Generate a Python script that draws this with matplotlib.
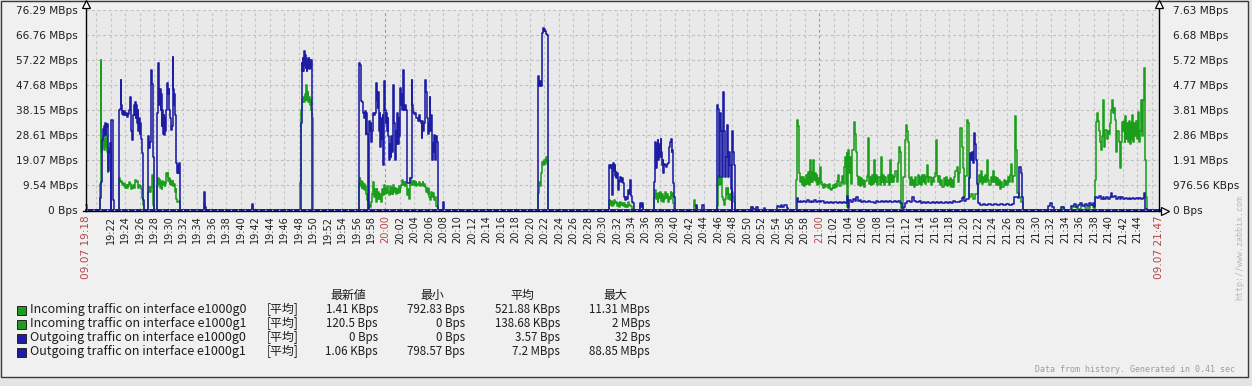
import matplotlib
matplotlib.use("Agg")
import matplotlib.pyplot as plt
from matplotlib.patches import Rectangle
from matplotlib.lines import Line2D

W, H = 1252, 386
MIB = 1048576.0

# ---------------- data (time = minutes after 19:00, value = MBps) ----------------
T_START = 18.59   # 09.07 19:18(:35)
T_END = 167.0     # 09.07 21:47

# Incoming traffic on interface e1000g0 (left axis, MBps)
in_g0_pts = [
    (18.59, 2.0), (18.75, 0),
    (20.53, 10), (20.60, 57), (20.70, 22), (20.80, 27), (20.90, 24), (21.00, 28), (21.10, 23),
    (21.20, 27), (21.30, 24), (21.40, 28), (21.50, 22), (21.60, 14.5), (21.70, 23.6), (21.80, 21.6),
    (21.92, 23), (22.00, 0),
    (23.16, 12), (23.30, 10.5), (23.45, 11), (23.55, 10), (23.65, 9.5), (23.75, 10.3), (23.85, 9),
    (23.95, 10), (24.05, 8.5), (24.15, 9.5), (24.25, 8.4), (24.35, 9.5), (24.45, 9), (24.58, 10.5),
    (24.70, 9.8), (24.82, 8), (24.92, 9), (25.02, 8.5), (25.14, 9.5), (25.26, 8.5), (25.37, 11.4),
    (25.50, 10.5), (25.61, 11), (25.72, 9), (25.83, 8.5), (25.95, 9.5), (26.07, 9), (26.18, 8),
    (26.30, 4.6), (26.45, 1.9), (26.60, 0),
    (27.22, 7), (27.32, 8.8), (27.42, 7), (27.55, 8.8), (27.65, 13.4), (27.80, 12), (27.90, 2), (28.00, 0),
    (28.46, 9), (28.56, 12), (28.66, 10), (28.76, 11.5), (28.86, 8.5), (28.96, 10.5), (29.07, 8),
    (29.17, 11), (29.27, 9.5), (29.37, 10.5), (29.47, 9), (29.57, 10), (29.67, 14), (29.77, 13),
    (29.87, 14), (29.97, 11), (30.07, 12), (30.17, 10), (30.27, 11.5), (30.37, 9.5), (30.47, 10.5),
    (30.57, 11), (30.67, 9), (30.77, 10), (30.87, 7), (30.97, 8), (31.07, 4), (31.20, 3.0),
    (31.45, 3.5), (31.58, 0),
    (34.90, 2.5), (35.05, 0), (41.50, 1.5), (41.65, 0),
    (48.23, 10.3), (48.33, 38), (48.45, 42), (48.55, 41), (48.65, 43), (48.75, 41), (48.85, 44),
    (48.95, 42), (49.05, 47.7), (49.15, 42), (49.25, 45), (49.35, 41), (49.45, 43), (49.55, 40),
    (49.65, 42), (49.75, 38), (49.85, 35), (49.93, 0),
    (56.30, 10), (56.42, 12), (56.52, 9), (56.62, 11), (56.72, 8.5), (56.82, 10.5), (56.92, 8),
    (57.02, 10), (57.12, 7.6), (57.22, 9), (57.35, 6), (57.47, 3.8), (57.58, 0.8), (57.72, 2),
    (57.90, 1), (58.05, 3), (58.20, 6), (58.34, 10.7), (58.45, 5), (58.55, 8), (58.65, 3), (58.78, 8),
    (58.90, 4), (59.02, 7), (59.15, 4), (59.28, 6), (59.40, 3), (59.55, 8), (59.68, 5.7), (59.80, 9.5),
    (59.92, 6), (60.04, 8), (60.16, 6.5), (60.28, 9), (60.40, 7), (60.52, 5.7), (60.64, 9), (60.76, 6),
    (60.88, 8.5), (61.00, 6), (61.12, 9.5), (61.24, 7), (61.36, 8.5), (61.48, 6), (61.60, 8),
    (61.72, 6.5), (61.84, 9), (61.96, 7), (62.08, 8.5), (62.20, 9.5), (62.31, 11.4), (62.42, 9.5),
    (62.54, 10.5), (62.66, 9), (62.78, 10.5), (62.90, 9.5), (63.00, 5.7), (63.12, 8), (63.23, 4),
    (63.35, 9), (63.46, 12), (63.58, 9.5), (63.70, 11), (63.82, 9.5), (63.94, 11), (64.06, 9.5),
    (64.18, 10.5), (64.30, 9), (64.42, 10), (64.54, 9.5), (64.66, 10.5), (64.78, 9), (64.90, 10),
    (65.02, 9.5), (65.14, 10.5), (65.26, 9), (65.38, 10), (65.50, 8.8), (65.62, 7), (65.74, 8.5),
    (65.86, 6), (65.98, 8), (66.10, 5), (66.22, 3.8), (66.34, 7), (66.46, 5), (66.58, 6.5),
    (66.70, 3.8), (66.82, 5), (66.94, 1.5), (67.10, 1.0), (67.22, 0),
    (81.05, 6.5), (81.20, 10.8), (81.35, 9), (81.47, 10.8), (81.58, 14), (81.68, 18.4), (81.80, 17),
    (81.92, 19), (82.05, 17.5), (82.16, 19.5), (82.28, 20), (82.38, 18.5), (82.45, 3.2), (82.53, 0),
    (90.93, 3.8), (91.05, 2), (91.18, 3.5), (91.30, 1.5), (91.42, 3), (91.55, 2), (91.68, 3.8),
    (91.80, 2.5), (91.92, 3), (92.05, 1.5), (92.18, 2.5), (92.30, 1.2), (92.45, 3), (92.58, 2),
    (92.72, 2.8), (92.85, 1.5), (93.00, 2.5), (93.15, 1.2), (93.30, 2), (93.45, 1), (93.60, 3),
    (93.75, 2), (93.90, 1.5), (94.10, 0.5), (94.40, 0),
    (95.18, 2.0), (95.69, 0),
    (97.16, 5), (97.28, 7.6), (97.40, 4), (97.52, 6), (97.64, 3), (97.76, 6.5), (97.88, 4.5),
    (98.00, 7), (98.12, 3.5), (98.24, 6), (98.36, 3), (98.48, 5), (98.60, 4), (98.72, 7), (98.84, 4.5),
    (98.96, 6), (99.08, 3), (99.20, 5), (99.32, 4), (99.44, 7), (99.56, 5.5), (99.68, 6.5),
    (99.80, 2.7), (99.95, 0),
    (102.66, 3.8), (102.85, 1.5), (103.05, 0),
    (105.84, 1.5), (105.98, 13), (106.10, 9.5), (106.22, 12), (106.34, 10), (106.46, 12.5),
    (106.58, 5), (106.72, 3.8), (106.84, 2), (106.96, 4), (107.08, 8.4), (107.20, 6), (107.32, 8.4),
    (107.44, 4), (107.56, 6), (107.68, 3.8), (107.80, 6), (107.92, 7), (108.05, 5), (108.18, 3),
    (108.30, 0),
    (110.55, 1.2), (110.80, 0), (167.0, 0),
]

# Incoming traffic on interface e1000g1 (right axis, MBps)
in_g1_pts = [
    (18.59, 0),
    (116.79, 1.14), (116.93, 3.43), (117.05, 3.2), (117.15, 2.4), (117.25, 1.4), (117.35, 1.05),
    (117.48, 1.25), (117.60, 0.95), (117.72, 1.25), (117.84, 0.9), (117.96, 1.15), (118.08, 0.95),
    (118.20, 1.35), (118.32, 1.0), (118.44, 1.45), (118.56, 0.95), (118.68, 1.9), (118.80, 1.05),
    (118.92, 1.45), (119.04, 1.05), (119.16, 1.9), (119.28, 1.15), (119.40, 1.4), (119.52, 1.05),
    (119.64, 1.35), (119.76, 0.95), (119.88, 1.2), (120.00, 1.0), (120.12, 1.65), (120.24, 1.05),
    (120.40, 0.95), (120.55, 0.85), (120.70, 1.0), (120.85, 0.88), (121.00, 0.95), (121.15, 0.85),
    (121.30, 1.0), (121.45, 0.8), (121.60, 0.75), (121.75, 0.85), (121.90, 0.95), (122.05, 0.85),
    (122.20, 1.0), (122.35, 0.88), (122.50, 1.1), (122.65, 1.34), (122.80, 0.9), (122.95, 1.05),
    (123.10, 1.3), (123.25, 1.0), (123.40, 1.65), (123.52, 2.03), (123.65, 1.0), (123.78, 2.16),
    (123.90, 0.12), (124.02, 2.29), (124.15, 1.4), (124.30, 2.0), (124.45, 1.0), (124.60, 2.29),
    (124.75, 2.7), (124.86, 3.36), (124.98, 2.9), (125.10, 2.2), (125.22, 1.3), (125.35, 0.95),
    (125.50, 1.25), (125.65, 0.9), (125.80, 1.2), (125.95, 0.95), (126.10, 1.15), (126.25, 0.88),
    (126.40, 1.1), (126.55, 1.3), (126.70, 2.75), (126.85, 1.0), (127.00, 1.25), (127.15, 0.95),
    (127.30, 1.35), (127.45, 1.0), (127.60, 1.9), (127.75, 1.05), (127.90, 1.35), (128.05, 0.95),
    (128.20, 1.25), (128.35, 0.95), (128.56, 2.0), (128.70, 1.05), (128.85, 1.35), (129.00, 0.95),
    (129.15, 1.25), (129.30, 1.05), (129.45, 1.35), (129.60, 0.95), (129.80, 1.9), (129.95, 1.05),
    (130.10, 1.35), (130.25, 1.05), (130.40, 1.25), (130.55, 1.5), (130.70, 1.05), (130.85, 1.8),
    (131.00, 2.4), (131.20, 2.2), (131.38, 0.08), (131.60, 1.26), (131.80, 2.67), (131.95, 3.24),
    (132.10, 3.0), (132.25, 2.6), (132.40, 1.2), (132.55, 0.95), (132.70, 1.25), (132.85, 0.95),
    (133.00, 1.15), (133.15, 0.88), (133.30, 1.25), (133.45, 0.95), (133.60, 1.35), (133.75, 1.0),
    (133.90, 1.25), (134.05, 0.95), (134.20, 1.35), (134.35, 1.05), (134.50, 1.35), (134.65, 1.0),
    (134.80, 1.25), (134.95, 1.72), (135.10, 1.05), (135.25, 1.25), (135.40, 0.95), (135.55, 1.2),
    (135.70, 1.05), (135.85, 1.25), (136.00, 1.4), (136.12, 2.67), (136.30, 1.3), (136.45, 1.05),
    (136.60, 1.3), (136.75, 0.95), (136.90, 1.15), (137.05, 0.88), (137.20, 1.2), (137.35, 0.95),
    (137.50, 1.25), (137.65, 0.9), (137.80, 1.15), (137.95, 0.95), (138.10, 1.2), (138.25, 0.88),
    (138.40, 1.15), (138.55, 0.88), (138.70, 1.25), (138.85, 1.5), (139.00, 1.65), (139.15, 1.05),
    (139.30, 1.4), (139.50, 3.13), (139.70, 2.4), (139.85, 1.6), (139.98, 0.5), (140.20, 1.3),
    (140.40, 3.43), (140.60, 3.3), (140.75, 0.5), (141.00, 0.6), (141.30, 0.4), (141.60, 0.6),
    (141.90, 1.0), (142.05, 1.35), (142.20, 1.05), (142.35, 1.5), (142.50, 1.0), (142.65, 1.25),
    (142.80, 1.05), (142.95, 1.35), (143.10, 1.05), (143.25, 1.9), (143.40, 1.15), (143.55, 0.95),
    (143.70, 1.25), (143.85, 1.05), (144.00, 1.5), (144.15, 1.05), (144.30, 1.25), (144.45, 0.95),
    (144.60, 1.2), (144.75, 0.95), (144.90, 1.15), (145.05, 0.8), (145.20, 1.05), (145.35, 0.88),
    (145.50, 1.15), (145.65, 0.95), (145.80, 1.1), (145.95, 0.95), (146.10, 1.25), (146.25, 1.05),
    (146.40, 1.35), (146.55, 1.75), (146.70, 1.05), (146.85, 1.3), (147.02, 3.56), (147.20, 2.3),
    (147.40, 0.65), (147.65, 0.5), (147.90, 0.3), (148.15, 0),
    (153.60, 0.1), (153.90, 0), (155.00, 0.12), (155.60, 0.05), (156.20, 0.2), (156.80, 0.08),
    (157.40, 0.18), (157.90, 0.1), (158.05, 0),
    (158.10, 1.14), (158.25, 3.36), (158.40, 3.7), (158.55, 3.4), (158.70, 3.0), (158.85, 2.6),
    (159.00, 2.3), (159.15, 2.8), (159.30, 4.2), (159.45, 2.4), (159.60, 3.05), (159.75, 2.7),
    (159.90, 3.0), (160.05, 2.9), (160.20, 3.3), (160.35, 3.8), (160.50, 4.2), (160.65, 3.7),
    (160.80, 3.9), (160.95, 3.43), (161.10, 2.2), (161.25, 3.0), (161.40, 2.6), (161.55, 1.6),
    (161.70, 2.6), (161.85, 3.36), (162.00, 3.0), (162.12, 3.4), (162.24, 2.6), (162.36, 3.56),
    (162.48, 2.7), (162.60, 3.3), (162.72, 2.6), (162.84, 3.4), (162.96, 2.5), (163.08, 3.3),
    (163.20, 2.7), (163.32, 3.6), (163.44, 2.6), (163.56, 3.3), (163.68, 2.8), (163.80, 3.4),
    (163.92, 2.7), (164.04, 3.3), (164.16, 3.74), (164.28, 2.6), (164.40, 3.0), (164.52, 4.2),
    (164.64, 2.8), (164.78, 4.2), (164.90, 5.4), (165.05, 1.9), (165.20, 0.5), (165.35, 0),
    (167.0, 0),
]

# Outgoing traffic on interface e1000g0 (left axis, MBps) - flat zero
out_g0_pts = [(18.59, 0), (167.0, 0)]

# Outgoing traffic on interface e1000g1 (left axis, MBps)
out_g1_pts = [
    (18.59, 0),
    (20.53, 4.5), (20.67, 10.7), (20.80, 26.7), (20.94, 31), (21.02, 28), (21.10, 32), (21.18, 29),
    (21.26, 33), (21.34, 28.5), (21.42, 31.7), (21.50, 32.8), (21.58, 24), (21.66, 15), (21.75, 22),
    (21.85, 25.5), (22.00, 0.5), (22.08, 34.3), (22.30, 3.8), (22.40, 0),
    (23.16, 38), (23.35, 38.5), (23.40, 49.6), (23.50, 40), (23.58, 36.5), (23.66, 37.5), (23.74, 36),
    (23.82, 37.5), (23.95, 36), (24.10, 37), (24.25, 35.5), (24.40, 36.5), (24.52, 38), (24.62, 43),
    (24.75, 36), (24.88, 30), (24.95, 26.7), (25.05, 32), (25.14, 36), (25.25, 40), (25.32, 36),
    (25.40, 41), (25.48, 35), (25.56, 40), (25.64, 33), (25.72, 38), (25.80, 30), (25.90, 35),
    (26.00, 29), (26.10, 33), (26.22, 27), (26.30, 21.6), (26.42, 12), (26.52, 3.8), (26.62, 0),
    (27.22, 28), (27.35, 23.6), (27.45, 26), (27.60, 53.4), (27.72, 48), (27.83, 42), (27.91, 20),
    (28.01, 0), (28.46, 37), (28.58, 56), (28.66, 46), (28.74, 40), (28.82, 46), (28.90, 38),
    (28.98, 44), (29.07, 32), (29.15, 38), (29.23, 29), (29.31, 36), (29.39, 28.6), (29.48, 35),
    (29.57, 30), (29.66, 38), (29.76, 42), (29.86, 48.4), (29.94, 44), (30.02, 46), (30.12, 38),
    (30.22, 35), (30.34, 30.5), (30.46, 32), (30.56, 58.4), (30.66, 46), (30.74, 40), (30.82, 44),
    (30.91, 36), (31.00, 24), (31.08, 18), (31.16, 14), (31.25, 17), (31.35, 14), (31.45, 18),
    (31.55, 15), (31.61, 0),
    (34.90, 6.9), (35.05, 1.2), (35.12, 0), (41.50, 2.2), (41.65, 0),
    (48.27, 33), (48.40, 56), (48.50, 53), (48.58, 58), (48.66, 53), (48.74, 60.4), (48.82, 55),
    (48.90, 59), (48.98, 54), (49.06, 58), (49.14, 53), (49.22, 57.2), (49.30, 54), (49.38, 58),
    (49.46, 53.5), (49.54, 57), (49.62, 54), (49.70, 57), (49.80, 55), (49.88, 0),
    (56.30, 56), (56.54, 55), (56.65, 41.3), (56.81, 41), (56.95, 37), (57.05, 35), (57.15, 37.5),
    (57.25, 29), (57.35, 37), (57.47, 29), (57.58, 0), (57.72, 34), (57.85, 30), (57.95, 33),
    (58.05, 26), (58.16, 30), (58.28, 37), (58.45, 36), (58.60, 37), (58.72, 48.4), (58.82, 42),
    (58.92, 39), (59.02, 45), (59.12, 30), (59.22, 37), (59.32, 24), (59.42, 35), (59.52, 27),
    (59.62, 36), (59.72, 17), (59.82, 49), (59.92, 38), (60.02, 33), (60.12, 37), (60.22, 30),
    (60.32, 35), (60.42, 28), (60.52, 19), (60.62, 25), (60.72, 20), (60.82, 28), (60.92, 22),
    (61.02, 29), (61.12, 47.7), (61.22, 33), (61.32, 19), (61.42, 30), (61.52, 25), (61.62, 37),
    (61.72, 25), (61.82, 35), (61.92, 28), (62.02, 46.5), (62.14, 40), (62.24, 44), (62.34, 38),
    (62.44, 53.4), (62.54, 40), (62.64, 38), (62.76, 40), (62.88, 38), (62.98, 10.3), (63.25, 10.3),
    (63.40, 12), (63.62, 49.6), (63.74, 40), (63.86, 37.4), (64.00, 36.5), (64.15, 37), (64.30, 35),
    (64.45, 34), (64.60, 36), (64.75, 34), (64.90, 33), (65.00, 27.5), (65.12, 34), (65.25, 30),
    (65.35, 33), (65.47, 49.6), (65.58, 45), (65.70, 42), (65.82, 35), (65.92, 29), (66.02, 33),
    (66.12, 43), (66.22, 30), (66.32, 36), (66.42, 19), (66.52, 25.5), (66.62, 22), (66.72, 28.6),
    (66.82, 26), (66.92, 19), (67.02, 28), (67.12, 26), (67.22, 0),
    (67.95, 3.2), (68.08, 0),
    (81.05, 47), (81.15, 51), (81.28, 47), (81.40, 49), (81.55, 47), (81.62, 67.4), (81.75, 69.3),
    (81.88, 68.3), (82.00, 68.8), (82.12, 68), (82.24, 66.8), (82.40, 66.5), (82.50, 0),
    (90.93, 17.2), (91.05, 16), (91.15, 17), (91.28, 12), (91.38, 5.7), (91.50, 17.9), (91.62, 15),
    (91.72, 17), (91.80, 13), (91.88, 14.5), (91.96, 12), (92.04, 14), (92.14, 11), (92.24, 7.6),
    (92.34, 11), (92.45, 12.5), (92.56, 10.5), (92.68, 12), (92.80, 10.3), (92.95, 9), (93.05, 5),
    (93.18, 3.8), (93.32, 5), (93.45, 4), (93.58, 7.6), (93.70, 6), (93.80, 11.4), (93.92, 9),
    (94.02, 5.5), (94.14, 3), (94.30, 2.5), (94.42, 0),
    (95.18, 2.5), (95.35, 1), (95.55, 2.5), (95.69, 0),
    (97.16, 10.8), (97.26, 26), (97.36, 21), (97.46, 16), (97.56, 25), (97.66, 26.5), (97.76, 19),
    (97.86, 25), (97.96, 20), (98.06, 27), (98.16, 22), (98.26, 17), (98.36, 19), (98.46, 14),
    (98.56, 17.5), (98.70, 17), (98.85, 16.5), (99.00, 17.5), (99.12, 18), (99.24, 24), (99.36, 26),
    (99.46, 27), (99.58, 22), (99.70, 23), (99.80, 10.3), (99.92, 5), (100.04, 0),
    (102.95, 2), (103.15, 0), (103.85, 2), (104.02, 0),
    (105.84, 40), (105.98, 38.5), (106.10, 12.7), (106.22, 33), (106.34, 37), (106.46, 30),
    (106.56, 12.7), (106.66, 30), (106.76, 45), (106.88, 30), (106.96, 12.7), (107.08, 20),
    (107.20, 32.4), (107.32, 25), (107.42, 12.7), (107.54, 22), (107.66, 17.2), (107.80, 8),
    (107.92, 0.5), (108.00, 29.9), (108.12, 22), (108.22, 17.2), (108.32, 0),
    (110.55, 1.2), (110.80, 0.4), (111.30, 1.2), (111.50, 0), (112.35, 0.8), (112.50, 0),
    (114.16, 1.5), (114.40, 1), (114.70, 2), (114.90, 1), (115.20, 1.8), (115.50, 0.8), (115.70, 0),
    (116.93, 4.5), (117.10, 3.0), (117.30, 3.4), (117.55, 3.0), (117.80, 3.5), (118.05, 3.2),
    (118.30, 3.8), (118.55, 3.0), (118.80, 3.6), (119.05, 3.2), (119.30, 3.8), (119.55, 3.2),
    (119.80, 3.6), (120.05, 3.0), (120.30, 3.4), (120.60, 2.8), (120.90, 3.2), (121.20, 2.6),
    (121.50, 2.9), (121.80, 2.6), (122.10, 3.0), (122.40, 2.7), (122.70, 3.1), (123.00, 2.8),
    (123.30, 3.2), (123.60, 2.8), (123.90, 5.5), (124.05, 0.8), (124.17, 3.8), (124.40, 3.2),
    (124.65, 4.0), (124.90, 3.4), (125.15, 5.0), (125.35, 3.5), (125.60, 3.8), (125.85, 3.2),
    (126.10, 3.6), (126.40, 3.0), (126.70, 3.4), (127.00, 3.0), (127.30, 3.2), (127.60, 2.8),
    (127.90, 3.3), (128.20, 2.9), (128.50, 3.4), (128.80, 3.0), (129.10, 3.5), (129.40, 3.0),
    (129.70, 3.3), (130.00, 2.9), (130.30, 3.5), (130.60, 3.0), (130.90, 3.4), (131.20, 2.8),
    (131.40, 0.8), (131.75, 1.0), (131.90, 2.5), (132.20, 3.5), (132.50, 3.2), (132.90, 5.0),
    (133.15, 3.5), (133.45, 3.0), (133.75, 3.3), (134.05, 2.8), (134.35, 3.2), (134.65, 2.8),
    (134.95, 3.1), (135.25, 2.7), (135.55, 3.2), (135.85, 2.8), (136.15, 3.0), (136.45, 2.7),
    (136.75, 3.1), (137.05, 2.8), (137.35, 3.2), (137.65, 2.8), (137.95, 3.0), (138.25, 2.7),
    (138.55, 3.3), (138.85, 2.9), (139.15, 3.2), (139.45, 3.6), (139.75, 4.4), (139.87, 5.0),
    (140.05, 3.5), (140.35, 4.0), (140.70, 12), (140.79, 21.6), (140.95, 19), (141.10, 22),
    (141.25, 18), (141.40, 29.3), (141.55, 25), (141.68, 19), (141.82, 10), (141.95, 2.5),
    (142.20, 2.0), (142.60, 2.4), (143.00, 1.8), (143.40, 2.2), (143.80, 1.9), (144.20, 2.3),
    (144.60, 1.8), (145.00, 2.2), (145.40, 1.9), (145.80, 2.3), (146.20, 1.8), (146.60, 2.2),
    (146.95, 5.0), (147.45, 4.5), (147.65, 16.5), (147.85, 14), (148.05, 5), (148.19, 0),
    (151.69, 1.5), (151.90, 2.5), (152.20, 1.0), (152.50, 0), (153.49, 1.0), (153.80, 0),
    (154.88, 1.5), (155.20, 2.2), (155.50, 1.2), (155.80, 1.8), (156.10, 2.6), (156.40, 1.5),
    (156.70, 2.2), (157.00, 1.6), (157.30, 2.6), (157.60, 1.8), (157.90, 2.8), (158.05, 1.0),
    (158.20, 5.0), (158.45, 4.4), (158.70, 5.2), (158.95, 4.3), (159.20, 5.0), (159.45, 4.2),
    (159.70, 4.9), (159.95, 4.3), (160.20, 4.8), (160.40, 6.5), (160.55, 4.8), (160.80, 5.2),
    (161.05, 4.3), (161.30, 4.9), (161.55, 4.2), (161.80, 4.8), (162.05, 4.2), (162.30, 4.7),
    (162.55, 4.3), (162.80, 4.7), (163.05, 4.2), (163.30, 4.7), (163.55, 4.3), (163.80, 4.6),
    (164.05, 4.2), (164.30, 4.7), (164.55, 4.3), (164.80, 4.7), (164.92, 6.5), (165.10, 0.5),
    (165.35, 0), (167.0, 0),
]

# ---------------- labels ----------------
left_tick_labels = ["0 Bps", "9.54 MBps", "19.07 MBps", "28.61 MBps", "38.15 MBps",
                    "47.68 MBps", "57.22 MBps", "66.76 MBps", "76.29 MBps"]
right_tick_labels = ["0 Bps", "976.56 KBps", "1.91 MBps", "2.86 MBps", "3.81 MBps",
                     "4.77 MBps", "5.72 MBps", "6.68 MBps", "7.63 MBps"]
x_grid_minutes = list(range(20, 167, 2))     # 19:20 .. 21:46
x_label_minutes = list(range(22, 165, 2))    # 19:22 .. 21:44
start_label = "09.07 19:18"
end_label = "09.07 21:47"

legend_names = ["Incoming traffic on interface e1000g0",
                "Incoming traffic on interface e1000g1",
                "Outgoing traffic on interface e1000g0",
                "Outgoing traffic on interface e1000g1"]
legend_func = "[平均]"
stat_headers = ["最新値", "最小", "平均", "最大"]
stat_last = ["1.41 KBps", "120.5 Bps", "0 Bps", "1.06 KBps"]
stat_min = ["792.83 Bps", "0 Bps", "0 Bps", "798.57 Bps"]
stat_avg = ["521.88 KBps", "138.68 KBps", "3.57 Bps", "7.2 MBps"]
stat_max = ["11.31 MBps", "2 MBps", "32 Bps", "88.85 MBps"]

GREEN = "#1B9E1B"
BLUE = "#1C1CA4"
series_colors = [GREEN, GREEN, BLUE, BLUE]
RED = "#B44646"
TXT = "#1E1E1E"

# ---------------- figure ----------------
def fx(x):
    return x / W


def fy(y):
    return 1 - y / H


fig = plt.figure(figsize=(W / 100, H / 100), dpi=100)
fig.patch.set_facecolor("#E4E4E4")
fig.patches.append(Rectangle((fx(0.5), fy(377)), (1248 - 0.5) / W, (377 - 0.5) / H,
                             transform=fig.transFigure, facecolor="#F0F0F0",
                             edgecolor="#3A3A3A", lw=1.0, zorder=-5))

PL, PR, PT, PB = 86, 1159, 9.5, 210
rect = [fx(PL), fy(PB), (PR - PL) / W, (PB - PT) / H]
axR = fig.add_axes(rect)
axL = fig.add_axes(rect, sharex=axR)
axR.set_facecolor("#E9E9E9")
axL.patch.set_visible(False)

left_max = 80e6 / MIB
right_max = 8e6 / MIB
axL.set_ylim(0, left_max)
axR.set_ylim(0, right_max)
axR.set_xlim(T_START, T_END)

for a in (axL, axR):
    for s in a.spines.values():
        s.set_visible(False)

# grid (on the bottom axes)
for k in range(1, 9):
    axR.axhline(k * 1e6 / MIB, color="#BEBEBE", lw=0.8, ls=(0, (2.5, 2.5)), zorder=0.5)
for m in x_grid_minutes:
    hour = (m % 60 == 0)
    axR.axvline(m, color="#999999" if hour else "#C4C4C4", lw=0.8,
                ls=(0, (2.5, 2.5)), zorder=0.5)

LW = 1.15
t1, v1 = zip(*in_g1_pts)
axR.plot(t1, v1, drawstyle="steps-post", color=GREEN, lw=LW, clip_on=False, zorder=2)
for pts, col in ((in_g0_pts, GREEN), (out_g0_pts, BLUE), (out_g1_pts, BLUE)):
    t, v = zip(*pts)
    axL.plot(t, v, drawstyle="steps-post", color=col, lw=LW if pts is not out_g0_pts else 2.0,
             clip_on=False, zorder=2)
axL.plot([T_START, T_END], [0, 0], color="white", lw=0.9, ls=(0, (1, 4.5)), clip_on=False, zorder=3)

# y ticks
axL.set_yticks([k * 10e6 / MIB for k in range(9)])
axL.set_yticklabels(left_tick_labels)
axL.tick_params(axis="y", length=0, pad=6, labelsize=7.6, labelcolor=TXT)
axR.yaxis.tick_right()
axR.set_yticks([k * 1e6 / MIB for k in range(9)])
axR.set_yticklabels(right_tick_labels)
axR.tick_params(axis="y", length=0, pad=10, labelsize=7.6, labelcolor=TXT)
axL.tick_params(axis="x", bottom=False, labelbottom=False)

# x ticks
xt = [T_START] + x_label_minutes + [T_END]
xl = [start_label] + [f"{19 + m // 60}:{m % 60:02d}" for m in x_label_minutes] + [end_label]
axR.set_xticks(xt)
axR.set_xticklabels(xl, rotation=90)
axR.tick_params(axis="x", length=0, pad=4, labelsize=7, labelcolor=TXT)
for lab, m in zip(axR.get_xticklabels(), xt):
    if m in (T_START, T_END) or (m in x_label_minutes and m % 60 == 0):
        lab.set_color(RED)
        if m in (T_START, T_END):
            lab.set_fontsize(7.6)

# axis lines with arrows
def fline(xs, ys, **kw):
    fig.add_artist(Line2D([fx(x) for x in xs], [fy(y) for y in ys],
                          transform=fig.transFigure, **kw))

fline([PL, PL], [211, 4], color="black", lw=1.0, zorder=5)
fline([PR, PR], [211, 4], color="black", lw=1.0, zorder=5)
fline([PL - 3, 1163], [211, 211], color="black", lw=1.0, zorder=5)
fline([PL], [3.5], marker="^", markersize=6, mfc="white", mec="black", mew=0.9, zorder=6)
fline([PR], [3.5], marker="^", markersize=6, mfc="white", mec="black", mew=0.9, zorder=6)
fline([1165], [211], marker=">", markersize=6, mfc="white", mec="black", mew=0.9, zorder=6)

# ---------------- legend ----------------
LFONT = ["Noto Sans CJK JP", "DejaVu Sans"]
header_x = [348, 432, 522, 615]
col_right = [378, 465, 560, 650]
for hx, h in zip(header_x, stat_headers):
    fig.text(fx(hx), fy(295), h, ha="center", va="center", family=LFONT, fontsize=8.6, color=TXT)
row_y = [310, 324, 338, 352]
for i, ry in enumerate(row_y):
    fig.patches.append(Rectangle((fx(17), fy(ry + 4.5)), 9 / W, 9 / H, transform=fig.transFigure,
                                 facecolor=series_colors[i], edgecolor="#222222", lw=0.7, zorder=3))
    fig.text(fx(30), fy(ry), legend_names[i], ha="left", va="center", family=LFONT,
             fontsize=9.0, color=TXT)
    fig.text(fx(267), fy(ry), legend_func, ha="left", va="center", family=LFONT,
             fontsize=8.6, color=TXT)
    for cx, vals in zip(col_right, (stat_last, stat_min, stat_avg, stat_max)):
        fig.text(fx(cx), fy(ry), vals[i], ha="right", va="center", family=LFONT,
                 fontsize=8.3, color=TXT)

fig.text(fx(1235), fy(370), "Data from history. Generated in 0.41 sec", ha="right", va="center",
         family="DejaVu Sans Mono", fontsize=6, color="#9C9C9C")
fig.text(fx(1240), fy(247), "http://www.zabbix.com", ha="center", va="center", rotation=90,
         family="DejaVu Sans Mono", fontsize=6, color="#B8B8B8")

fig.savefig("out.png", dpi=100, facecolor=fig.get_facecolor())
